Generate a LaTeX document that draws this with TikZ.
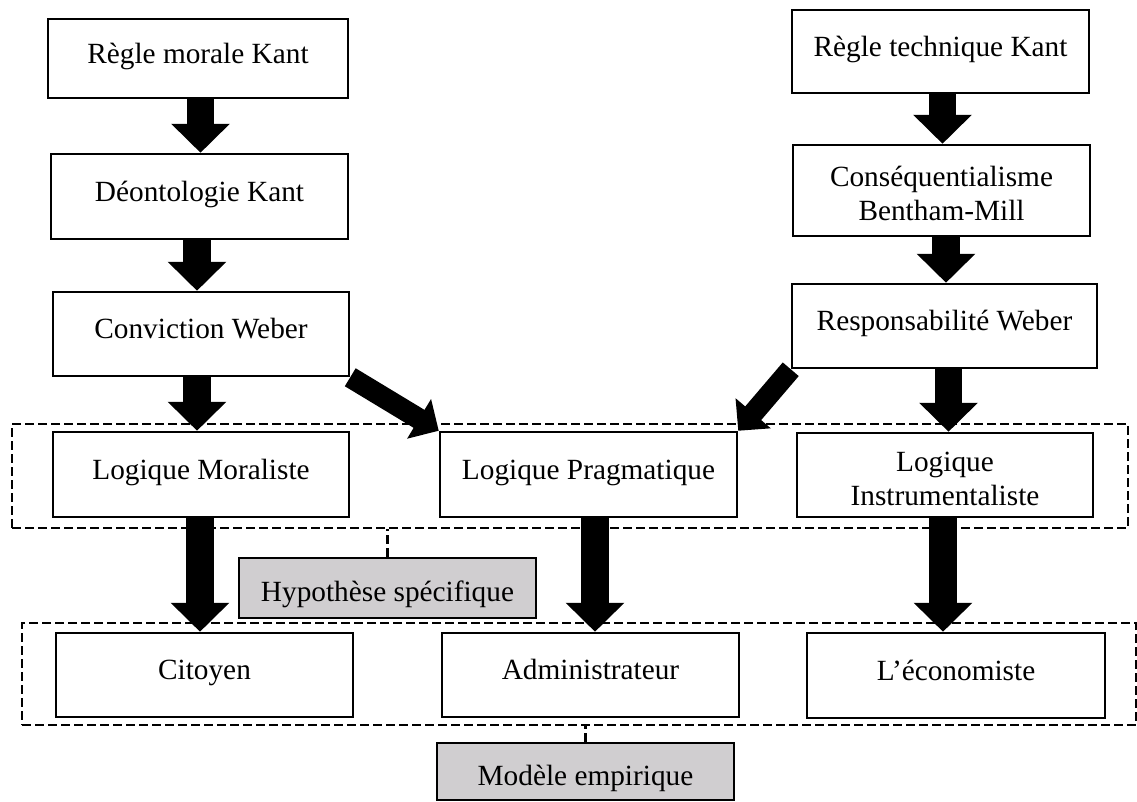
\documentclass[tikz,border=0pt]{standalone}
\usepackage{fontspec}
\setmainfont{Liberation Serif}
\usetikzlibrary{arrows.meta,calc}
\definecolor{boxgray}{RGB}{208,206,208}
\newcommand{\twolines}[2]{\begin{tabular}[t]{@{}c@{}}#1\\#2\end{tabular}}
\begin{document}
\begin{tikzpicture}[x=1pt,y=-1pt,
  every node/.style={font=\fontsize{29.3}{34}\selectfont},
  concept/.style={draw, line width=2.5pt, fill=white, inner sep=0pt},
  oneline/.style={text height=20pt, text depth=10.6pt},
  twoline/.style={text height=20pt, text depth=27.6pt},
  graybox/.style={concept, fill=boxgray, text height=28pt, text depth=0.6pt},
  frame/.style={draw, line width=2.3pt, dash pattern=on 9pt off 4pt, inner sep=0pt},
  link/.style={line width=2.3pt, dash pattern=on 9pt off 4pt},
  bigarrow/.style={line width=27.5pt, -{Triangle[width=57pt,length=29pt]}},
  slantarrow/.style={line width=21pt, -{Triangle[width=45pt,length=23pt]}}
]
\useasboundingbox (0,0) rectangle (1137,801);

% dashed group frames
\node[frame, minimum width=1116pt, minimum height=104pt] (grp1) at (570,476) {};
\node[frame, minimum width=1114pt, minimum height=102pt] (grp2) at (579,674) {};

% left column
\node[concept, oneline, minimum width=300pt, minimum height=79pt] (rmk) at (198,58.5) {Règle morale Kant};
\node[concept, oneline, minimum width=297pt, minimum height=85pt] (deo) at (199.5,196.5) {Déontologie Kant};
\node[concept, oneline, minimum width=296pt, minimum height=84pt] (conv) at (201,334) {Conviction Weber};
\node[concept, oneline, minimum width=296pt, minimum height=85pt] (lmor) at (201,474.5) {Logique Moraliste};

% right column
\node[concept, oneline, minimum width=297pt, minimum height=83pt] (rtk) at (940.5,51.5) {Règle technique Kant};
\node[concept, twoline, minimum width=297pt, minimum height=91pt] (cons) at (941.5,190.5) {\twolines{Conséquentialisme}{Bentham-Mill}};
\node[concept, oneline, minimum width=305pt, minimum height=84pt] (resp) at (944.5,326) {Responsabilité Weber};
\node[concept, twoline, minimum width=296pt, minimum height=84pt] (linst) at (945,475) {\twolines{Logique}{Instrumentaliste}};

% middle
\node[concept, oneline, minimum width=297pt, minimum height=85pt] (lprag) at (588.5,474.5) {Logique Pragmatique};

% actors
\node[concept, oneline, minimum width=297pt, minimum height=84pt] (cit) at (204.5,675) {Citoyen};
\node[concept, oneline, minimum width=297pt, minimum height=84pt] (adm) at (590.5,675) {Administrateur};
\node[concept, oneline, minimum width=298pt, minimum height=85pt] (eco) at (956,675.5) {L’économiste};

% grey captions
\node[graybox, minimum width=297pt, minimum height=60pt] (hyp) at (387.5,588) {Hypothèse spécifique};
\node[graybox, minimum width=297pt, minimum height=57pt] (mod) at (585.5,771.5) {Modèle empirique};

% links from frames to captions
\draw[link] (hyp.north) -- (hyp.north |- grp1.south);
\draw[link] (mod.north) -- (mod.north |- grp2.south);

% block arrows
\draw[bigarrow] ($(rmk.south)+(2.5,0)$) -- ($(rmk.south |- deo.north)+(2.5,0)$);
\draw[bigarrow] ($(deo.south)+(-2.5,0)$) -- ($(deo.south |- conv.north)+(-2.5,0)$);
\draw[bigarrow] ($(conv.south)+(-4,0)$) -- ($(conv.south |- lmor.north)+(-4,0)$);
\draw[bigarrow] ($(lmor.south)+(-1,0)$) -- ($(lmor.south |- cit.north)+(-1,0)$);

\draw[bigarrow] ($(rtk.south)+(2,0)$) -- ($(rtk.south |- cons.north)+(2,0)$);
\draw[bigarrow] ($(cons.south)+(4.5,0)$) -- ($(cons.south |- resp.north)+(4.5,0)$);
\draw[bigarrow] ($(resp.south)+(4,0)$) -- ($(resp.south |- linst.north)+(4,0)$);
\draw[bigarrow] ($(linst.south)+(-2,0)$) -- ($(linst.south |- eco.north)+(-2,0)$);

\draw[bigarrow] ($(lprag.south)+(6.5,0)$) -- ($(lprag.south |- adm.north)+(6.5,0)$);

\draw[slantarrow] (conv.south east) -- (lprag.north west);
\draw[slantarrow] (resp.south west) -- (lprag.north east);
\end{tikzpicture}
\end{document}
